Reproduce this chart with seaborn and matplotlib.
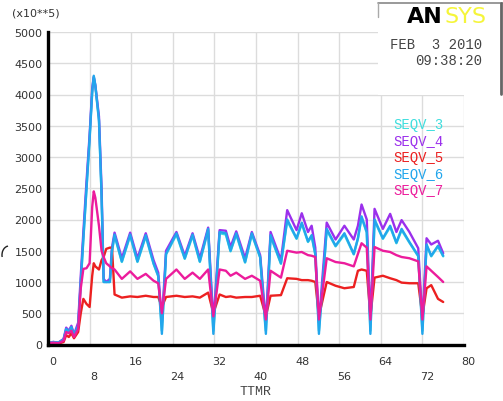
import pandas as pd
import matplotlib
matplotlib.use("Agg")
import matplotlib.pyplot as plt
import matplotlib.patches as mpatches
import matplotlib.transforms as mtransforms
import seaborn as sns

# time points (TTMR) shared by all five curves
time = [0, 1, 2, 3, 3.5, 4, 4.5, 5, 5.8, 6.3,
        6.8, 7.4, 8.0, 8.5, 8.8, 9.1, 9.8, 10.3, 10.7, 11.2,
        11.9, 12.3, 12.8, 14.2, 15.8, 17.2, 18.8, 20.3, 21.2, 21.9,
        22.7, 24.7, 26.3, 27.8, 29.2, 30.8, 31.8, 33.0, 34.2, 35.1,
        36.2, 37.9, 39.2, 40.8, 41.9, 42.8, 44.8, 46.0, 47.8, 48.8,
        50.0, 50.7, 51.4, 52.1, 53.6, 55.3, 57.0, 58.8, 59.6, 60.3,
        61.3, 62.0, 62.8, 64.4, 65.8, 67.0, 68.0, 69.5, 71.2, 72.0,
        72.8, 73.7, 75.0, 76.0]

seqv_3 = [20, 40, 30, 80, 240, 190, 270, 150, 290, 980,
          1680, 2480, 3280, 4030, 4280, 4130, 3580, 2380, 1000, 1000,
          1000, 1480, 1740, 1320, 1740, 1320, 1730, 1290, 1090, 220,
          1440, 1760, 1370, 1740, 1320, 1830, 220, 1780, 1760, 1490,
          1760, 1310, 1760, 1390, 220, 1730, 1290, 1980, 1690, 1930,
          1640, 1730, 1440, 220, 1830, 1570, 1760, 1440, 1690, 2030,
          1790, 220, 1980, 1690, 1880, 1620, 1830, 1630, 1410, 220,
          1590, 1410, 1570, 1410]

seqv_4 = [20, 40, 30, 90, 270, 220, 300, 160, 350, 1100,
          1800, 2600, 3350, 4100, 4280, 4150, 3650, 2500, 1050, 1000,
          1050, 1550, 1790, 1380, 1790, 1380, 1780, 1350, 1150, 350,
          1500, 1800, 1420, 1780, 1380, 1870, 350, 1830, 1820, 1560,
          1810, 1380, 1800, 1430, 350, 1800, 1350, 2150, 1830, 2100,
          1800, 1900, 1550, 350, 1950, 1680, 1900, 1680, 1900, 2240,
          2000, 350, 2170, 1850, 2090, 1800, 1990, 1800, 1540, 350,
          1700, 1600, 1660, 1460]

seqv_5 = [10, 20, 15, 40, 150, 120, 180, 100, 200, 500,
          730, 650, 600, 1100, 1300, 1250, 1200, 1350, 1400, 1530,
          1550, 1550, 800, 750, 770, 760, 780, 760, 760, 600,
          760, 780, 760, 770, 750, 830, 500, 800, 760, 770,
          750, 760, 760, 780, 450, 780, 790, 1060, 1050, 1030,
          1030, 1020, 1000, 450, 1000, 940, 900, 920, 1180, 1200,
          1180, 450, 1070, 1100, 1060, 1030, 990, 980, 980, 450,
          900, 950, 730, 680]

seqv_6 = [20, 40, 30, 80, 250, 200, 280, 150, 300, 1000,
          1700, 2500, 3300, 4050, 4300, 4150, 3600, 2400, 1000, 1000,
          1000, 1500, 1760, 1330, 1760, 1330, 1750, 1300, 1100, 170,
          1450, 1780, 1380, 1760, 1330, 1850, 170, 1800, 1780, 1500,
          1780, 1320, 1780, 1400, 170, 1750, 1300, 2000, 1700, 1950,
          1650, 1750, 1450, 170, 1850, 1580, 1780, 1450, 1700, 2050,
          1800, 170, 2000, 1700, 1900, 1630, 1850, 1640, 1420, 170,
          1600, 1420, 1580, 1420]

seqv_7 = [20, 30, 20, 60, 200, 180, 220, 120, 250, 900,
          1210, 1220, 1300, 2200, 2450, 2350, 1900, 1500, 1400, 1300,
          1250, 1220, 1200, 1050, 1170, 1050, 1130, 1020, 980, 500,
          1050, 1200, 1050, 1150, 1050, 1200, 450, 1200, 1180, 1100,
          1150, 1050, 1100, 1020, 400, 1180, 1070, 1500, 1470, 1480,
          1430, 1420, 1400, 400, 1380, 1320, 1300, 1250, 1450, 1620,
          1550, 400, 1560, 1500, 1480, 1430, 1400, 1380, 1330, 400,
          1250, 1180, 1080, 1000]

names = ["SEQV_3", "SEQV_4", "SEQV_5", "SEQV_6", "SEQV_7"]
colors = ["#3fdede", "#9b30ec", "#ec2020", "#22a6ec", "#ec1c9c"]
y_ticks = [0, 500, 1000, 1500, 2000, 2500, 3000, 3500, 4000, 4500, 5000]
x_ticks = [0, 8, 16, 24, 32, 40, 48, 56, 64, 72, 80]

df = pd.DataFrame({
    "time": time * 5,
    "value": seqv_3 + seqv_4 + seqv_5 + seqv_6 + seqv_7,
    "series": [n for n in names for _ in time],
})

sns.set_style("white")
plt.rcParams["font.family"] = ["DejaVu Sans"]

fig = plt.figure(figsize=(5.03, 4.02), dpi=100)
ax = fig.add_axes([48 / 503, 1 - 345.5 / 402, 416 / 503, 312.5 / 402])

sns.lineplot(data=df, x="time", y="value", hue="series", hue_order=names,
             palette=colors, legend=False, linewidth=1.7, sort=False,
             estimator=None, ax=ax)

ax.set_xlim(0, 80)
ax.set_ylim(0, 5000)
ax.set_xticks(x_ticks)
ax.set_xticklabels([])
ax.set_yticks(y_ticks)
ax.set_yticklabels([str(v) for v in y_ticks], fontsize=8, color="#333333")
ax.tick_params(length=0, pad=4)
ax.set_xlabel("")
ax.set_ylabel("")
ax.grid(True, color="#dcdcdc", linewidth=1.0)
for side in ["top", "right"]:
    ax.spines[side].set_visible(False)
for side in ["left", "bottom"]:
    ax.spines[side].set_color("black")
    ax.spines[side].set_linewidth(2.4)
    ax.spines[side].set_zorder(5)

# staggered x tick labels, shifted a little right like the original
trans = mtransforms.blended_transform_factory(ax.transData, ax.transAxes)
for i, v in enumerate(x_ticks):
    dy = -16.5 if i % 2 == 0 else -31.5
    t = mtransforms.offset_copy(trans, fig=fig, x=4.5, y=dy, units="dots")
    ax.text(v, 0, str(v), transform=t, ha="center", va="center",
            fontsize=8, color="#333333")

fig.text(255 / 503, 1 - 392.5 / 402, "TTMR", ha="center", va="center",
         fontsize=9.5, color="#444444", family="Liberation Mono")
fig.text(12 / 503, 1 - 13 / 402, "(x10**5)", ha="left", va="center",
         fontsize=8, color="#333333")

# small stray mark at the left edge
fig.add_artist(mpatches.Arc((9 / 503, 1 - 256 / 402), 14 / 503, 18 / 402,
                            theta1=95, theta2=200, transform=fig.transFigure,
                            color="#222222", lw=1.0))

# ANSYS title box
box = mpatches.Rectangle((378 / 503, 1 - 96 / 402), 125 / 503, 92 / 402,
                         transform=fig.transFigure, facecolor="white",
                         edgecolor="none", zorder=10)
fig.patches.append(box)
fig.add_artist(plt.Line2D([378 / 503, 503 / 503], [1 - 4 / 402, 1 - 4 / 402],
                          transform=fig.transFigure, color="#888888", lw=1.2, zorder=11))
fig.add_artist(plt.Line2D([378 / 503, 378 / 503], [1 - 4 / 402, 1 - 18 / 402],
                          transform=fig.transFigure, color="#aaaaaa", lw=1.0, zorder=11))
fig.add_artist(plt.Line2D([501 / 503, 501 / 503], [1 - 4 / 402, 1 - 95 / 402],
                          transform=fig.transFigure, color="#666666", lw=2.0, zorder=11))
fig.text(407 / 503, 1 - 17 / 402, "AN", ha="left", va="center", fontsize=16,
         fontweight="heavy", color="black", zorder=12)
fig.text(445 / 503, 1 - 17 / 402, "SYS", ha="left", va="center", fontsize=16,
         color="#f5f53a", zorder=12)
fig.text(482 / 503, 1 - 45 / 402, "FEB  3 2010", ha="right", va="center",
         fontsize=10, color="#444444", family="Liberation Mono", zorder=12)
fig.text(482 / 503, 1 - 61 / 402, "09:38:20", ha="right", va="center",
         fontsize=10, color="#444444", family="Liberation Mono", zorder=12)

# legend labels in series colours
for i, (n, c) in enumerate(zip(names, colors)):
    fig.text(393 / 503, 1 - (125 + 16.6 * i) / 402, n, ha="left", va="center",
             fontsize=10, color=c, family="Liberation Mono", zorder=12)

fig.savefig("out.png", dpi=100)
